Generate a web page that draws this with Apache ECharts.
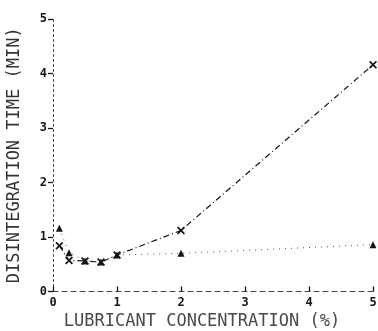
<!DOCTYPE html>
<html><head><meta charset="utf-8">
<script src="https://cdn.jsdelivr.net/npm/echarts@6/dist/echarts.min.js"></script>
<style>html,body{margin:0;padding:0;background:#fff}#c{width:378px;height:331px}</style>
</head><body><div id="c"></div>
<script>
const concX = [0.1, 0.25, 0.5, 0.75, 1, 2, 5];
const crossTime = [0.84, 0.57, 0.56, 0.54, 0.67, 1.12, 4.16];
const triangleTime = [1.16, 0.71, 0.56, 0.54, 0.67, 0.70, 0.86];
const xTicks = ['0', '1', '2', '3', '4', '5'];
const yTicks = ['0', '1', '2', '3', '4', '5'];
const xTitle = 'LUBRICANT CONCENTRATION (%)';
const yTitle = 'DISINTEGRATION TIME (MIN)';

const ink = '#151515';
const mono = 'DejaVu Sans Mono';
const crossPath = 'path://M0,1.5L1.5,0L5,3.5L8.5,0L10,1.5L6.5,5L10,8.5L8.5,10L5,6.5L1.5,10L0,8.5L3.5,5Z';

const pairs = (xs, ys) => xs.map((x, i) => [x, ys[i]]);

const chart = echarts.init(document.getElementById('c'));
chart.setOption({
  animation: false,
  backgroundColor: '#fff',
  grid: { left: 53, right: 5, top: 19, bottom: 39.5, containLabel: false, outerBoundsMode: 'none' },
  xAxis: {
    type: 'value', min: 0, max: 5, interval: 1,
    axisLine: { lineStyle: { color: '#444', width: 1, type: [5, 4] } },
    axisTick: { inside: true, length: 5, lineStyle: { color: ink, width: 1.3 } },
    axisLabel: { color: ink, fontFamily: mono, fontSize: 12, fontWeight: 'bold', margin: 5,
      formatter: v => xTicks[Math.round(v)] },
    splitLine: { show: false },
    name: xTitle, nameLocation: 'middle', nameGap: 22,
    nameTextStyle: { color: '#4a4a4a', fontFamily: mono, fontSize: 17, padding: [0, 22, 0, 0] }
  },
  yAxis: {
    type: 'value', min: 0, max: 5, interval: 1,
    axisLine: { lineStyle: { color: '#444', width: 1, type: [2, 3] } },
    axisTick: { inside: false, length: 5, lineStyle: { color: ink, width: 1.3 } },
    axisLabel: { color: ink, fontFamily: mono, fontSize: 12, fontWeight: 'bold', margin: 6,
      formatter: v => yTicks[Math.round(v)] },
    splitLine: { show: false },
    name: yTitle, nameLocation: 'middle', nameGap: 30, nameRotate: 90,
    nameTextStyle: { color: '#333', fontFamily: mono, fontSize: 17 }
  },
  series: [
    {
      type: 'line', data: pairs(concX, crossTime),
      symbol: crossPath, symbolSize: 8,
      itemStyle: { color: ink },
      lineStyle: { color: ink, width: 1.2, type: [6, 3, 1, 3] }
    },
    {
      type: 'line', data: pairs(concX, triangleTime),
      symbol: 'triangle', symbolSize: 7,
      itemStyle: { color: ink },
      lineStyle: { color: '#555', width: 1, type: [1, 5] }
    }
  ]
});
</script></body></html>
